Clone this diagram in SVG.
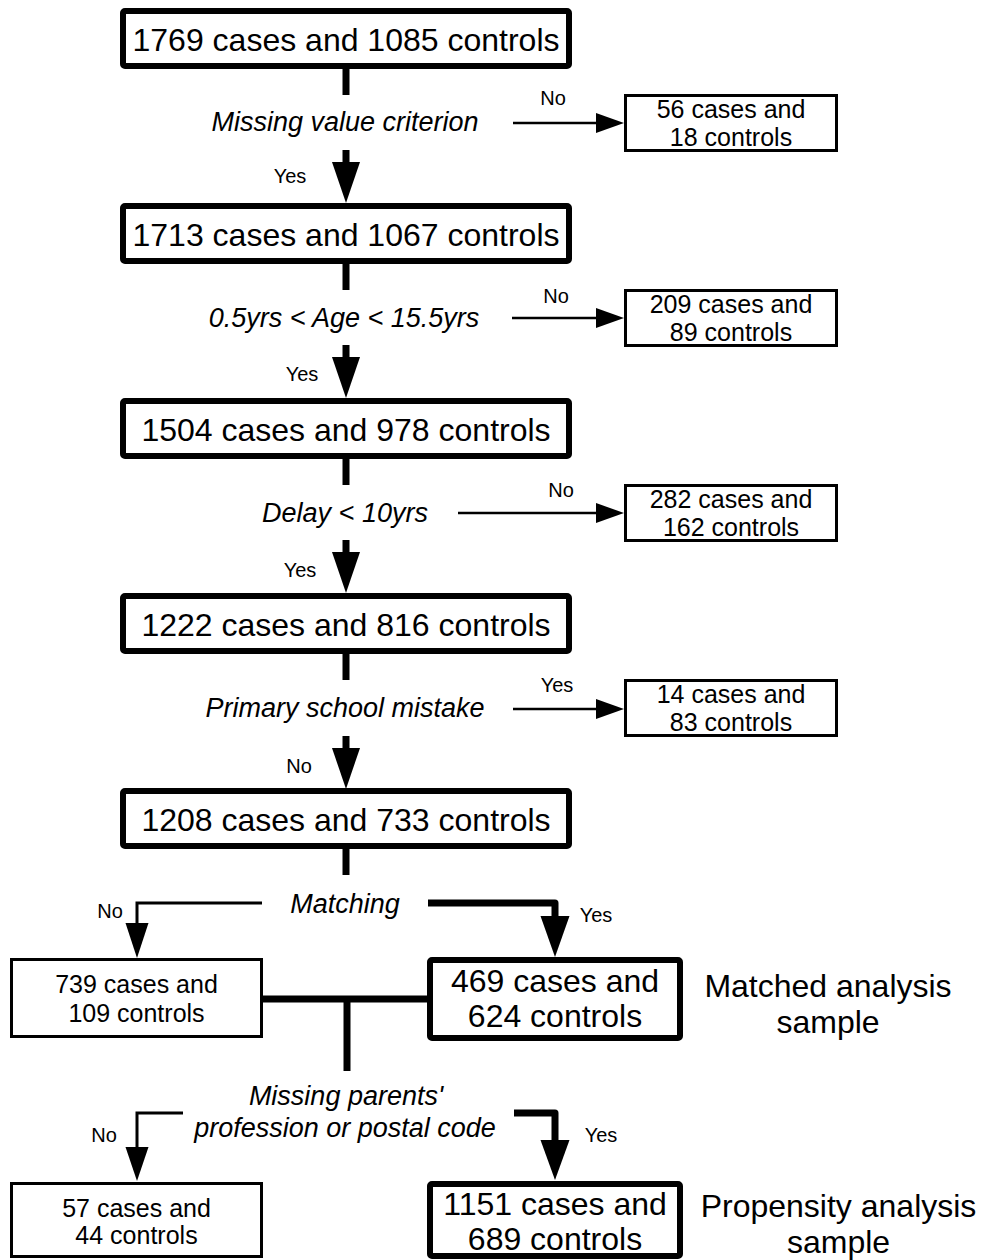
<svg xmlns="http://www.w3.org/2000/svg" width="983" height="1260" viewBox="0 0 983 1260">
<style>
text{font-family:"Liberation Sans",Arial,sans-serif;fill:#000;text-anchor:middle}
.main{font-size:32px}
.side{font-size:25px}
.dec{font-size:27px;font-style:italic}
.lbl{font-size:20px}
.mbox{fill:#fff;stroke:#000;stroke-width:6}
.sbox{fill:#fff;stroke:#000;stroke-width:3}
.thick{fill:none;stroke:#000;stroke-width:7}
.thin{fill:none;stroke:#000;stroke-width:2.5}
.thin3{fill:none;stroke:#000;stroke-width:3}
.head{fill:#000}
</style>
<rect width="983" height="1260" fill="#fff"/>
<g id="connectors">
  <!-- row 1 -->
  <line class="thick" x1="346" y1="69" x2="346" y2="95"/>
  <line class="thick" x1="346" y1="150" x2="346" y2="164"/>
  <polygon class="head" points="332,162 360,162 346,203"/>
  <line class="thin" x1="513" y1="123" x2="600" y2="123"/>
  <polygon class="head" points="596,113 624,123 596,133"/>
  <text class="lbl" x="553" y="105">No</text>
  <text class="lbl" x="290" y="183">Yes</text>
  <!-- row 2 -->
  <line class="thick" x1="346" y1="264" x2="346" y2="290"/>
  <line class="thick" x1="346" y1="345" x2="346" y2="359"/>
  <polygon class="head" points="332,357 360,357 346,398"/>
  <line class="thin" x1="512" y1="318" x2="600" y2="318"/>
  <polygon class="head" points="596,308 624,318 596,328"/>
  <text class="lbl" x="556" y="303">No</text>
  <text class="lbl" x="302" y="381">Yes</text>
  <!-- row 3 -->
  <line class="thick" x1="346" y1="459" x2="346" y2="485"/>
  <line class="thick" x1="346" y1="540" x2="346" y2="554"/>
  <polygon class="head" points="332,552 360,552 346,593"/>
  <line class="thin" x1="458" y1="513" x2="600" y2="513"/>
  <polygon class="head" points="596,503 624,513 596,523"/>
  <text class="lbl" x="561" y="497">No</text>
  <text class="lbl" x="300" y="577">Yes</text>
  <!-- row 4 -->
  <line class="thick" x1="346" y1="654" x2="346" y2="680"/>
  <line class="thick" x1="346" y1="736" x2="346" y2="750"/>
  <polygon class="head" points="332,748 360,748 346,789"/>
  <line class="thin" x1="513" y1="709" x2="600" y2="709"/>
  <polygon class="head" points="596,699 624,709 596,719"/>
  <text class="lbl" x="557" y="692">Yes</text>
  <text class="lbl" x="299" y="773">No</text>
  <!-- matching -->
  <line class="thick" x1="346" y1="849" x2="346" y2="875"/>
  <path class="thin3" d="M262,903 H137 V926"/>
  <polygon class="head" points="125.5,923 148.5,923 137,958"/>
  <text class="lbl" x="110" y="918">No</text>
  <path class="thick" d="M428,903 H555 V920" stroke-linejoin="round"/>
  <polygon class="head" points="540.5,916 569.5,916 555,957"/>
  <text class="lbl" x="596" y="922">Yes</text>
  <line class="thick" x1="263" y1="999" x2="428" y2="999"/>
  <line class="thick" x1="347" y1="999" x2="347" y2="1071"/>
  <!-- missing parents -->
  <path class="thin3" d="M183,1113 H137 V1150"/>
  <polygon class="head" points="125.5,1147 148.5,1147 137,1181"/>
  <text class="lbl" x="104" y="1142">No</text>
  <path class="thick" d="M514,1113 H555 V1144" stroke-linejoin="round"/>
  <polygon class="head" points="540.5,1140 569.5,1140 555,1180"/>
  <text class="lbl" x="601" y="1142">Yes</text>
</g>
<g id="n1"><rect class="mbox" x="123" y="11" width="446" height="55" rx="2"/><text class="main" x="346" y="51">1769 cases and 1085 controls</text></g>
<g id="d1"><text class="dec" x="345" y="131">Missing value criterion</text></g>
<g id="s1"><rect class="sbox" x="625.5" y="95.5" width="211" height="55"/><text class="side" x="731" y="118">56 cases and</text><text class="side" x="731" y="146">18 controls</text></g>
<g id="n2"><rect class="mbox" x="123" y="206" width="446" height="55" rx="2"/><text class="main" x="346" y="246">1713 cases and 1067 controls</text></g>
<g id="d2"><text class="dec" x="344" y="327">0.5yrs &lt; Age &lt; 15.5yrs</text></g>
<g id="s2"><rect class="sbox" x="625.5" y="290.5" width="211" height="55"/><text class="side" x="731" y="313">209 cases and</text><text class="side" x="731" y="341">89 controls</text></g>
<g id="n3"><rect class="mbox" x="123" y="401" width="446" height="55" rx="2"/><text class="main" x="346" y="441">1504 cases and 978 controls</text></g>
<g id="d3"><text class="dec" x="345" y="522">Delay &lt; 10yrs</text></g>
<g id="s3"><rect class="sbox" x="625.5" y="485.5" width="211" height="55"/><text class="side" x="731" y="508">282 cases and</text><text class="side" x="731" y="536">162 controls</text></g>
<g id="n4"><rect class="mbox" x="123" y="596" width="446" height="55" rx="2"/><text class="main" x="346" y="636">1222 cases and 816 controls</text></g>
<g id="d4"><text class="dec" x="345" y="717">Primary school mistake</text></g>
<g id="s4"><rect class="sbox" x="625.5" y="680.5" width="211" height="55"/><text class="side" x="731" y="703">14 cases and</text><text class="side" x="731" y="731">83 controls</text></g>
<g id="n5"><rect class="mbox" x="123" y="791" width="446" height="55" rx="2"/><text class="main" x="346" y="831">1208 cases and 733 controls</text></g>
<g id="d5"><text class="dec" x="345" y="913">Matching</text></g>
<g id="n6"><rect class="sbox" x="11.5" y="959.5" width="250" height="77"/><text class="side" x="136.5" y="993">739 cases and</text><text class="side" x="136.5" y="1022">109 controls</text></g>
<g id="n7"><rect class="mbox" x="430" y="960" width="250" height="78" rx="2"/><text class="main" x="555" y="992">469 cases and</text><text class="main" x="555" y="1027">624 controls</text></g>
<g id="lab1"><text class="main" x="828" y="997">Matched analysis</text><text class="main" x="828" y="1033">sample</text></g>
<g id="d6"><text class="dec" x="346" y="1105">Missing parents'</text><text class="dec" x="345" y="1137">profession or postal code</text></g>
<g id="n8"><rect class="sbox" x="11.5" y="1183.5" width="250" height="73"/><text class="side" x="136.5" y="1217">57 cases and</text><text class="side" x="136.5" y="1244">44 controls</text></g>
<g id="n9"><rect class="mbox" x="430" y="1184" width="250" height="72" rx="2"/><text class="main" x="555" y="1215">1151 cases and</text><text class="main" x="555" y="1250">689 controls</text></g>
<g id="lab2"><text class="main" x="838.5" y="1217">Propensity analysis</text><text class="main" x="838.5" y="1253">sample</text></g>
</svg>
